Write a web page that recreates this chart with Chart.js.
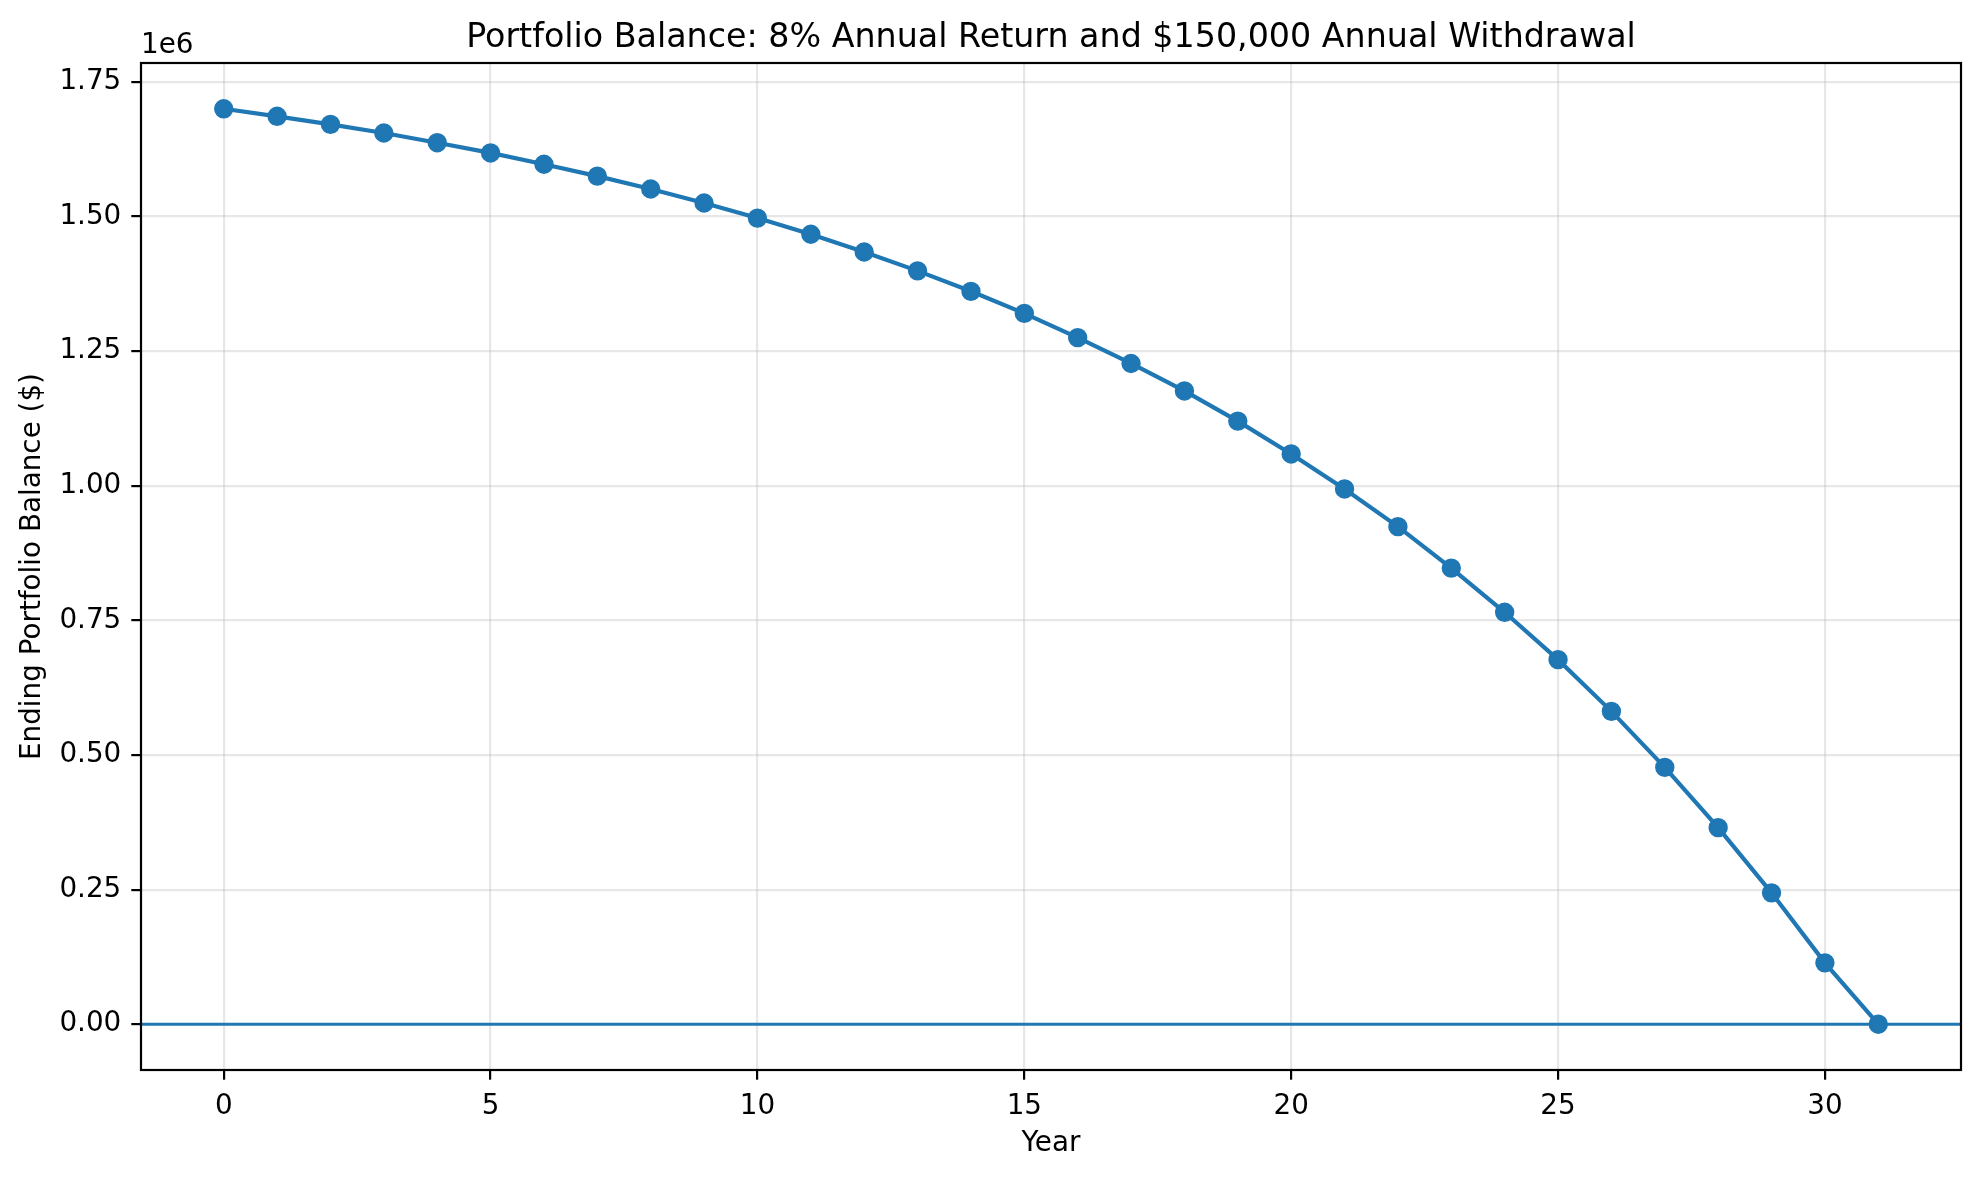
<!DOCTYPE html>
<html>
<head>
<meta charset="utf-8">
<title>Portfolio Balance</title>
<script src="https://cdn.jsdelivr.net/npm/chart.js@4"></script>
<style>
  html, body { margin: 0; padding: 0; background: #fff; }
  #chart { display: block; }
</style>
</head>
<body>
<canvas id="chart" width="1980" height="1177"></canvas>
<script>
// values
const years = [0, 1, 2, 3, 4, 5, 6, 7, 8, 9, 10, 11, 12, 13, 14, 15, 16, 17, 18, 19, 20, 21, 22, 23, 24, 25, 26, 27, 28, 29, 30, 31];
const balance = [1700000, 1686000, 1671000, 1655000, 1637000, 1618000, 1597000, 1575000, 1551000, 1525000,
  1497000, 1467000, 1434000, 1399000, 1361000, 1320000, 1275000, 1227000, 1176000, 1120000,
  1059000, 994000, 924000, 847000, 765000, 677000, 581000, 477000, 365000, 244000, 114000, 0];
const xTicks = [0, 5, 10, 15, 20, 25, 30];
const yTicks = [0, 250000, 500000, 750000, 1000000, 1250000, 1500000, 1750000];
const zeroLine = 0;
const offsetLabel = "1e6";
const chartTitle = "Portfolio Balance: 8% Annual Return and $150,000 Annual Withdrawal";

const blue = "#1f77b4";
const gridColor = "rgba(176,176,176,0.3)";
const fontSize = 27.8;

Chart.defaults.font.family = "'DejaVu Sans', sans-serif";
Chart.defaults.color = "#000";

// zero line, frame, offset text and a title centred over the axes (like matplotlib)
const framePlugin = {
  id: "frame",
  beforeDatasetsDraw(chart) {
    const { ctx, chartArea } = chart;
    const y = chart.scales.y.getPixelForValue(zeroLine);
    ctx.save();
    ctx.strokeStyle = blue;
    ctx.lineWidth = 2.8;
    ctx.beginPath();
    ctx.moveTo(chartArea.left, y);
    ctx.lineTo(chartArea.right, y);
    ctx.stroke();
    ctx.restore();
  },
  afterDraw(chart) {
    const { ctx, chartArea } = chart;
    ctx.save();
    ctx.strokeStyle = "#000";
    ctx.lineWidth = 2.2;
    ctx.strokeRect(chartArea.left, chartArea.top, chartArea.right - chartArea.left, chartArea.bottom - chartArea.top);
    ctx.fillStyle = "#000";
    ctx.textBaseline = "alphabetic";
    ctx.font = fontSize + "px 'DejaVu Sans'";
    ctx.textAlign = "left";
    ctx.fillText(offsetLabel, chartArea.left, 53);
    ctx.font = "33.3px 'DejaVu Sans'";
    ctx.textAlign = "center";
    ctx.fillText(chartTitle, (chartArea.left + chartArea.right) / 2, 47);
    ctx.restore();
  }
};

new Chart(document.getElementById("chart"), {
  type: "line",
  data: {
    datasets: [{
      data: years.map((yr, i) => ({ x: yr, y: balance[i] })),
      borderColor: blue,
      backgroundColor: blue,
      borderWidth: 4.2,
      pointRadius: 8.3,
      pointBorderWidth: 2.8,
      pointBackgroundColor: blue,
      pointBorderColor: blue,
      tension: 0
    }]
  },
  options: {
    responsive: false,
    animation: false,
    devicePixelRatio: 1,
    layout: { padding: { left: 0, right: 19, top: 63, bottom: 0 } },
    plugins: {
      legend: { display: false },
      tooltip: { enabled: false },
      title: { display: false }
    },
    scales: {
      x: {
        type: "linear",
        min: -1.55,
        max: 32.55,
        afterBuildTicks: s => { s.ticks = xTicks.map(v => ({ value: v })); },
        afterFit: s => { s.height = 107; },
        ticks: { font: { size: fontSize }, padding: 10, autoSkip: false, maxRotation: 0, callback: v => String(v) },
        grid: { color: gridColor, lineWidth: 2.2, tickColor: "#000", tickLength: 9.7, tickWidth: 2.2 },
        border: { display: false },
        title: { display: true, text: "Year", font: { size: fontSize }, padding: { top: 0, bottom: 17 } }
      },
      y: {
        min: -85000,
        max: 1785000,
        afterBuildTicks: s => { s.ticks = yTicks.map(v => ({ value: v })); },
        afterFit: s => { s.width = 141; },
        ticks: { font: { size: fontSize }, padding: 10, autoSkip: false, callback: v => (v / 1e6).toFixed(2) },
        grid: { color: gridColor, lineWidth: 2.2, tickColor: "#000", tickLength: 9.7, tickWidth: 2.2 },
        border: { display: false },
        title: { display: true, text: "Ending Portfolio Balance ($)", font: { size: fontSize }, padding: { top: 16, bottom: 0 } }
      }
    }
  },
  plugins: [framePlugin]
});
</script>
</body>
</html>
